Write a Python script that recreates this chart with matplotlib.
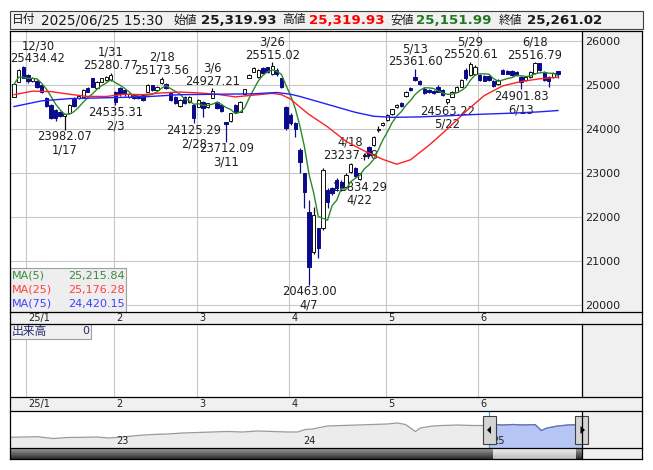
import matplotlib
matplotlib.use("Agg")
import matplotlib.pyplot as plt
import matplotlib.transforms as mtransforms
import matplotlib.dates as mdates
from matplotlib.patches import Rectangle, Polygon
from matplotlib.lines import Line2D
import numpy as np
import pandas as pd

plt.rcParams['font.family'] = ['DejaVu Sans', 'Noto Sans CJK JP']

W, H = 653, 470

# ---- daily candles (trading days, 2024/12/26 - 2025/06/25) ----
dates = ['12/26', '12/27', '12/30',
         '1/6', '1/7', '1/8', '1/9', '1/10', '1/14', '1/15', '1/16', '1/17', '1/20',
         '1/21', '1/22', '1/23', '1/24', '1/27', '1/28', '1/29', '1/30', '1/31',
         '2/3', '2/4', '2/5', '2/6', '2/7', '2/10', '2/12', '2/13', '2/14', '2/17',
         '2/18', '2/19', '2/20', '2/21', '2/25', '2/26', '2/27', '2/28',
         '3/3', '3/4', '3/5', '3/6', '3/7', '3/10', '3/11', '3/12', '3/13', '3/14',
         '3/17', '3/18', '3/19', '3/21', '3/24', '3/25', '3/26', '3/27', '3/28', '3/31',
         '4/1', '4/2', '4/3', '4/4', '4/7', '4/8', '4/9', '4/10', '4/11', '4/14',
         '4/15', '4/16', '4/17', '4/18', '4/21', '4/22', '4/23', '4/24', '4/25', '4/28', '4/30',
         '5/1', '5/2', '5/7', '5/8', '5/9', '5/12', '5/13', '5/14', '5/15', '5/16',
         '5/19', '5/20', '5/21', '5/22', '5/23', '5/26', '5/27', '5/28', '5/29', '5/30',
         '6/2', '6/3', '6/4', '6/5', '6/6', '6/9', '6/10', '6/11', '6/12', '6/13',
         '6/16', '6/17', '6/18', '6/19', '6/20', '6/23', '6/24', '6/25']

opens = [24730, 25075, 25400,
         25220, 25090, 25090, 24990, 24710, 24545, 24430, 24390, 24300, 24355,
         24680, 24715, 24735, 24940, 25150, 24925, 25075, 25110, 25115,
         24848, 24924, 24886, 24727, 24772, 24757, 24772, 24848, 25000, 24886,
         25040, 25030, 24810, 24734, 24522, 24734, 24621, 24545,
         24507, 24621, 24507, 24712, 24621, 24545, 24160, 24181, 24545, 24394,
         24788, 25166, 25303, 25189, 25378, 25401, 25242, 25340, 25150, 24507,
         24318, 24129, 23523, 22992, 22121, 21212, 21750, 21742, 22613, 22651,
         22841, 22803, 22689, 23030, 23106, 22870, 23380, 23598, 23636, 23970, 24090,
         24205, 24340, 24510, 24590, 24740, 24940, 25190, 25098, 24901, 24886,
         24871, 24947, 24886, 24614, 24735, 24848, 24962, 25341, 25227, 25250,
         25227, 25205, 25200, 25100, 25030, 25330, 25320, 25320, 25290, 25189,
         25120, 25189, 25265, 25492, 25303, 25190, 25180, 25319.93]

highs = [25030, 25370, 25434.42,
         25260, 25180, 25110, 25000, 24730, 24560, 24450, 24410, 24350, 24570,
         24720, 24770, 24900, 24960, 25170, 25090, 25170, 25200, 25280.77,
         24870, 24960, 24900, 24810, 24790, 24770, 24790, 25020, 25010, 24980,
         25173.56, 25050, 24830, 24750, 24680, 24760, 24750, 24560,
         24680, 24640, 24600, 24927.21, 24640, 24560, 24170, 24370, 24560, 24640,
         24920, 25240, 25400, 25360, 25420, 25420, 25515.02, 25380, 25170, 24530,
         24360, 24160, 23560, 23010, 22380, 22230, 21760, 23106, 22650, 22680,
         22880, 22830, 22990, 23237.48, 23130, 23010, 23450, 23620, 23830, 24060, 24160,
         24330, 24460, 24570, 24610, 24870, 24960, 25361.60, 25110, 24960, 24900,
         24890, 25000, 24900, 24690, 24860, 24980, 25130, 25380, 25520.61, 25450,
         25240, 25220, 25230, 25110, 25130, 25360, 25340, 25350, 25310, 25200,
         25200, 25320, 25516.79, 25500, 25320, 25210, 25290, 25319.93]

lows = [24720, 25060, 25150,
        25040, 25060, 24940, 24810, 24500, 24230, 24180, 24270, 23982.07, 24340,
        24510, 24690, 24720, 24840, 24950, 24910, 25060, 25090, 25090,
        24535.31, 24760, 24750, 24700, 24690, 24680, 24640, 24830, 24870, 24870,
        25020, 24920, 24640, 24560, 24500, 24560, 24600, 24125.29,
        24490, 24280, 24480, 24700, 24450, 24390, 23712.09, 24160, 24370, 24380,
        24770, 25150, 25290, 25170, 25250, 25270, 25230, 25200, 24940, 23980,
        24100, 23810, 22990, 22197, 20463.00, 21170, 21060, 21700, 22200, 22500,
        22600, 22600, 22670, 23000, 22900, 22834.29, 23300, 23380, 23620, 23930, 24070,
        24190, 24320, 24480, 24500, 24720, 24860, 25100, 25000, 24790, 24820,
        24790, 24830, 24750, 24563.22, 24720, 24830, 24950, 25120, 25210, 25230,
        25090, 25080, 25100, 24950, 25010, 25240, 25240, 25210, 25200, 24901.83,
        25100, 25170, 25250, 25320, 25090, 24960, 25160, 25151.99]

closes = [25015, 25340, 25170,
          25080, 25150, 24960, 24830, 24530, 24260, 24260, 24300, 24330, 24545,
          24530, 24750, 24886, 24848, 24962, 25075, 25150, 25190, 25227,
          24620, 24787, 24787, 24787, 24712, 24697, 24659, 25000, 24886, 24962,
          25130, 24940, 24659, 24583, 24659, 24583, 24734, 24242,
          24659, 24469, 24583, 24863, 24469, 24409, 24120, 24356, 24394, 24621,
          24900, 25227, 25378, 25341, 25265, 25288, 25439, 25250, 24962, 24015,
          24129, 23990, 23257, 22576, 20871, 22045, 21300, 23068, 22348, 22538,
          22651, 22651, 22954, 23200, 22932, 22990, 23400, 23408, 23810, 24000, 24140,
          24318, 24447, 24545, 24520, 24850, 24880, 25120, 25022, 24811, 24841,
          24811, 24848, 24773, 24674, 24848, 24962, 25113, 25150, 25480, 25420,
          25113, 25098, 25120, 24980, 25110, 25260, 25260, 25230, 25230, 25060,
          25189, 25303, 25492, 25338, 25110, 25100, 25270, 25261.02]

# moving averages (25 and 75 day need earlier history)
ma25_dates = ['12/26', '1/7', '1/14', '1/20', '1/24', '1/30', '2/5', '2/12', '2/18',
              '2/25', '3/3', '3/7', '3/13', '3/19', '3/26', '3/28', '4/1', '4/3',
              '4/7', '4/11', '4/17', '4/23', '4/30', '5/7', '5/12', '5/16', '5/22',
              '5/28', '6/3', '6/9', '6/13', '6/19', '6/25']
ma25_vals = [24780, 24860, 24850, 24790, 24740, 24740, 24790, 24780, 24820,
             24840, 24820, 24790, 24730, 24770, 24810, 24780, 24680, 24500,
             24330, 24050, 23720, 23500, 23310, 23200, 23300, 23630, 24000,
             24400, 24760, 24980, 25080, 25140, 25176.28]

ma75_dates = ['12/26', '1/9', '1/20', '1/30', '2/12', '2/25', '3/7', '3/19', '3/27',
              '4/1', '4/3', '4/9', '4/15', '4/21', '4/25', '5/2', '5/14', '5/22',
              '5/30', '6/11', '6/19', '6/25']
ma75_vals = [24510, 24640, 24690, 24710, 24730, 24780, 24790, 24800, 24830,
             24790, 24740, 24620, 24500, 24380, 24290, 24265, 24275, 24300,
             24330, 24360, 24390, 24420.15]

ma5_last = 25215.84
ma25_last = 25176.28
ma75_last = 24420.15

swing_dates = ['12/30', '1/17', '1/31', '2/3', '2/18', '2/28', '3/6', '3/11', '3/26',
               '4/7', '4/18', '4/22', '5/13', '5/22', '5/29', '6/13', '6/18']
swing_kinds = ['H', 'L', 'H', 'L', 'H', 'L', 'H', 'L', 'H',
               'L', 'H', 'L', 'H', 'L', 'H', 'L', 'H']

month_first = ['1/6', '2/3', '3/3', '4/1', '5/1', '6/2']
month_labels = ['25/1', '2', '3', '4', '5', '6']
price_ticks = [20000, 21000, 22000, 23000, 24000, 25000, 26000]

header_time = '2025/06/25 15:30'
volume_last = 0

# long-range navigator line
nav_dates = ['2022-06-05', '2022-07-04', '2022-08-02', '2022-09-01', '2022-09-29',
             '2022-10-28', '2022-11-26', '2022-12-18', '2023-01-14', '2023-02-12',
             '2023-03-13', '2023-04-11', '2023-05-10', '2023-06-08', '2023-07-07',
             '2023-08-06', '2023-09-04', '2023-10-03', '2023-11-01', '2023-12-01',
             '2023-12-20', '2024-01-04', '2024-01-18', '2024-02-16', '2024-03-16',
             '2024-04-15', '2024-05-14', '2024-06-12', '2024-07-01', '2024-07-17',
             '2024-08-05', '2024-08-15', '2024-09-07', '2024-09-27', '2024-10-26',
             '2024-11-24', '2024-12-13', '2024-12-26', '2025-01-06', '2025-01-22',
             '2025-02-11', '2025-03-02', '2025-03-26', '2025-04-07', '2025-04-18',
             '2025-05-09', '2025-05-29', '2025-06-25']
nav_vals = [15775, 16000, 16225, 14875, 15625,
            15775, 16000, 15250, 16000, 17125,
            17875, 18250, 19000, 19375, 19750,
            20125, 19750, 20500, 20125, 19750,
            19750, 21625, 22000, 24250, 24625,
            25000, 25375, 25750, 26500, 25375,
            20125, 22750, 24250, 24625, 25000,
            24625, 24625, 25000, 25375, 25000,
            25375, 25000, 25300, 20875, 22750,
            24250, 25000, 25375]
nav_years = ['2023-01-01', '2024-01-01', '2025-01-01']
nav_year_labels = ['23', '24', '25']
nav_sel_start = '2024-12-26'


def box(x0, y0, x1, y1):
    return [x0 / W, 1 - y1 / H, (x1 - x0) / W, (y1 - y0) / H]


def frect(x0, y0, x1, y1, **kw):
    r = Rectangle((x0 / W, 1 - y1 / H), (x1 - x0) / W, (y1 - y0) / H,
                  transform=fig.transFigure, **kw)
    fig.add_artist(r)


def fline(x0, y0, x1, y1, **kw):
    fig.add_artist(Line2D([x0 / W, x1 / W], [1 - y0 / H, 1 - y1 / H],
                          transform=fig.transFigure, **kw))


def ftext(x, y, s, **kw):
    fig.text(x / W, 1 - y / H, s, **kw)


fig = plt.figure(figsize=(W / 100, H / 100), dpi=100)
fig.set_facecolor('white')

PANEL = '#f0f0f0'
GRID = '#c8c8c8'
NAVY = '#0a0a8c'
idx = {d: i for i, d in enumerate(dates)}

# background panels
frect(582, 30, 642, 459, fc=PANEL, ec='none', zorder=-1)
frect(10, 312, 642, 324, fc=PANEL, ec='none', zorder=-1)
frect(10, 397, 642, 410.7, fc=PANEL, ec='none', zorder=-1)

# ---- header bar ----
frect(10, 11, 643, 29, fc=PANEL, ec='#404040', lw=0.8, zorder=2)
hy = 20
ftext(12, hy, '日付', fontsize=8.5, va='center', color='#1a1a1a', zorder=3)
ftext(41, hy, header_time, fontsize=9.8, va='center', color='#1a1a1a', zorder=3)
hdr = [('始値', 173, opens[-1], '#1a1a1a', 201),
       ('高値', 282, highs[-1], '#ff0000', 309),
       ('安値', 390, lows[-1], '#1e7b1e', 416),
       ('終値', 499, closes[-1], '#1a1a1a', 527)]
for lab, lx, val, col, vx in hdr:
    ftext(lx, hy, lab, fontsize=8.5, va='center', color='#1a1a1a', zorder=3)
    ftext(vx, hy, f'{val:,.2f}', fontsize=9.6, fontweight='bold', va='center',
          color=col, zorder=3)

# ---- price chart ----
ax = fig.add_axes(box(10, 30, 582, 312))
ax.set_xlim(-0.87, 123.2)
ax.set_ylim(19841, 26250)
for s in ax.spines.values():
    s.set_visible(False)
ax.set_xticks([])
ax.yaxis.tick_right()
ax.set_yticks(price_ticks)
ax.set_yticklabels([str(v) for v in price_ticks])
ax.tick_params(axis='y', length=0, pad=2, labelsize=8, labelcolor='#202020')

for v in price_ticks:
    ax.axhline(v, color=GRID, lw=0.8, zorder=0.5)
month_x = [idx[d] - 0.4 for d in month_first]
for mx in month_x:
    ax.axvline(mx, color=GRID, lw=0.8, zorder=0.5)

# swing high / low labels (under the candles)
x_left = ax.get_xlim()[0]
for d, k in zip(swing_dates, swing_kinds):
    i = idx[d]
    if k == 'H':
        v = highs[i]
        txt, va, dy = f'{d}\n{v:.2f}', 'bottom', 0.5
    else:
        v = lows[i]
        txt, va, dy = f'{v:.2f}\n{d}', 'top', -0.5
    xx, ha = i, 'center'
    if i < 5:
        xx, ha = x_left + 0.1, 'left'
    ax.annotate(txt, (xx, v), xytext=(0, dy), textcoords='offset points',
                ha=ha, va=va, fontsize=8.3, color='#202020', linespacing=1.0,
                multialignment='center', zorder=2)

# candles
for i, (o, h, l, c) in enumerate(zip(opens, highs, lows, closes)):
    up = c >= o
    col = '#101010' if up else NAVY
    ax.vlines(i, l, h, color=col, lw=0.9, zorder=3)
    ax.add_patch(Rectangle((i - 0.36, min(o, c)), 0.72, max(abs(c - o), 8),
                           fc='white' if up else NAVY, ec=col, lw=0.7, zorder=4))

# moving averages
ma5 = pd.Series(closes).rolling(5, min_periods=1).mean()
ax.plot(range(len(closes)), ma5, color='#2a8a2a', lw=1.0, zorder=5)
ax.plot([idx[d] for d in ma25_dates], ma25_vals, color='#ff2020', lw=1.0, zorder=5)
ax.plot([idx[d] for d in ma75_dates], ma75_vals, color='#2020ff', lw=1.0, zorder=5)

# MA legend
frect(10, 268, 126, 312, fc='#eeeeee', ec='#a0a0a0', lw=0.8, zorder=6)
leg = [('MA(5)', ma5_last, '#3a8a3a', 275.5),
       ('MA(25)', ma25_last, '#ff4040', 289.5),
       ('MA(75)', ma75_last, '#4040ff', 303.5)]
for name, val, col, ly in leg:
    ftext(12, ly, name, fontsize=8, color=col, va='center', zorder=7)
    ftext(125, ly, f'{val:,.2f}', fontsize=8, color=col, va='center', ha='right', zorder=7)

# ---- volume panel ----
axv = fig.add_axes(box(10, 324, 582, 397))
axv.set_xlim(ax.get_xlim())
axv.set_xticks([])
axv.set_yticks([])
for s in axv.spines.values():
    s.set_visible(False)
for mx in month_x:
    axv.axvline(mx, color=GRID, lw=0.8)
frect(10, 324, 91, 339, fc=PANEL, ec='#a0a0a0', lw=0.8, zorder=6)
ftext(12, 331.5, '出来高', fontsize=8.5, color='#2b2b70', va='center', zorder=7)
ftext(89, 331.5, str(volume_last), fontsize=8, color='#2b2b70', va='center',
      ha='right', zorder=7)

# month labels in both date strips
trans = mtransforms.blended_transform_factory(ax.transData, fig.transFigure)
for mx, lab in zip(month_x, month_labels):
    for sy in (318, 404):
        fig.text(mx + 0.5, 1 - sy / H, lab, transform=trans, fontsize=7,
                 color='#202020', va='center', ha='left')

# ---- navigator ----
axn = fig.add_axes(box(10, 410.7, 582, 448.3))
nx_ = pd.to_datetime(nav_dates)
nv = np.array(nav_vals, dtype=float)
axn.set_xlim(pd.Timestamp('2022-06-09'), pd.Timestamp('2025-06-25'))
axn.set_ylim(7525, 35725)
axn.set_xticks([])
axn.set_yticks([])
for s in axn.spines.values():
    s.set_visible(False)
axn.fill_between(nx_, nv, 0, color='#ececec', lw=0)
axn.plot(nx_, nv, color='#9a9a9a', lw=0.9)
sel = nx_ >= pd.Timestamp(nav_sel_start)
axn.fill_between(nx_[sel], nv[sel], 0, color='#b6c6f4', lw=0)
axn.plot(nx_[sel], nv[sel], color='#6070c8', lw=0.9)
axn.axvline(pd.Timestamp(nav_sel_start), color='#3aa0e0', lw=0.8)
ntrans = mtransforms.blended_transform_factory(axn.transData, fig.transFigure)
for yd, lab in zip(nav_years, nav_year_labels):
    fig.text(mdates.date2num(pd.Timestamp(yd)), 1 - 441 / H, lab, transform=ntrans,
             fontsize=7, color='#202020', va='center', ha='left')

# selection handles
for x0, x1, tri in [(483, 496, [(487, 430), (491, 426), (491, 434)]),
                    (575, 588, [(585, 430), (580.5, 426), (580.5, 434)])]:
    frect(x0, 416, x1, 444, fc='#d4d4d4', ec='#404040', lw=0.8, zorder=6)
    fig.add_artist(Polygon([(px / W, 1 - py / H) for px, py in tri], closed=True,
                           transform=fig.transFigure, fc='black', ec='none', zorder=7))

# scrollbar
axs = fig.add_axes(box(10, 448.3, 582, 459.3))
axs.axis('off')
axs.set_xlim(10, 582)
axs.set_ylim(0, 1)
g_dark = np.linspace(0.62, 0.18, 20).reshape(-1, 1)
g_light = np.linspace(0.94, 0.74, 20).reshape(-1, 1)
axs.imshow(g_dark, extent=[10, 582, 0, 1], aspect='auto', cmap='gray', vmin=0, vmax=1)
axs.imshow(g_light, extent=[493, 576, 0, 1], aspect='auto', cmap='gray', vmin=0, vmax=1)

# ---- frame lines ----
K = dict(color='black', lw=0.9, zorder=8)
for yy in (30.5, 312, 324, 397, 410.7, 448.3, 459.3):
    fline(10, yy, 642, yy, **K)
fline(10, 30.5, 10, 459.3, **K)
fline(642, 30.5, 642, 459.3, **K)
fline(582, 30.5, 582, 312, **K)
fline(582, 324, 582, 397, **K)
fline(582, 410.7, 582, 459.3, **K)

fig.savefig('out.png', dpi=100)
